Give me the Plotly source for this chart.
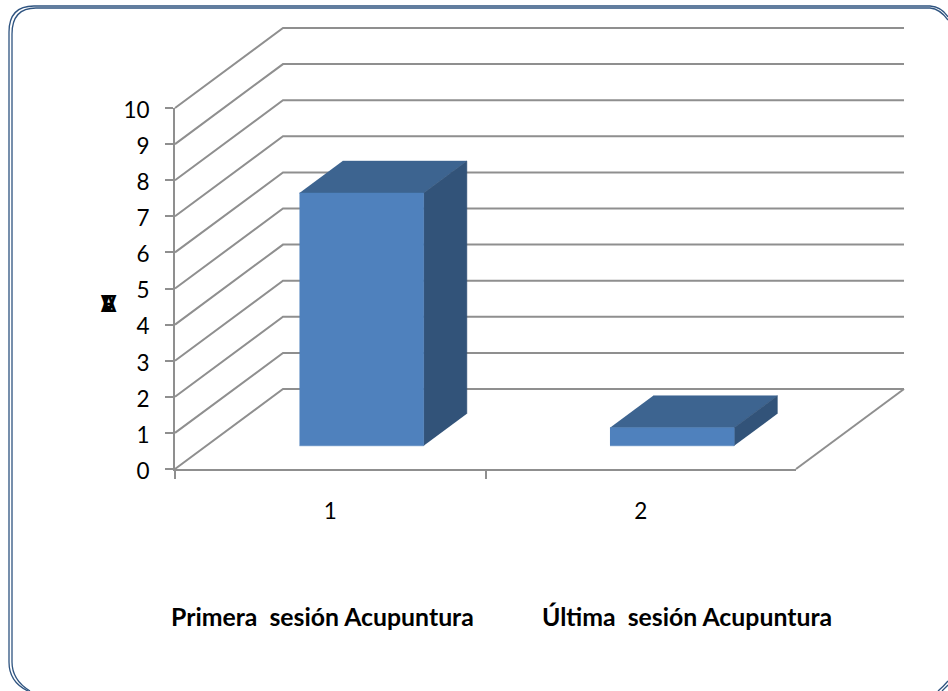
import plotly.graph_objects as go

categories = ["1", "2"]
values = [7, 0.5]
value_ticks = list(range(0, 11))
category_captions = ["Primera\u00a0 sesión Acupuntura", "Última\u00a0 sesión Acupuntura"]
stacked_title_letters = ["E", "V", "A"]

W, H = 948, 691
X0, X1 = 175, 796     # pixel span of the category axis
Y0, Y10 = 469, 108    # pixel span of the value axis
PX_CAT = (X1 - X0) / len(categories)
PX_VAL = (Y0 - Y10) / 10
DEPTH_X = 108 / PX_CAT   # depth offset in axis units
DEPTH_Y = 80 / PX_VAL
BAR_HALF = 0.2
Z_FRONT, Z_BACK = 0.29, 0.69

GRID = "#8f8f8f"
FRONT, TOP, SIDE = "#4f81bd", "#3d6490", "#325379"
NAVY = "#2f5480"
FONT = "Lato, Carlito, sans-serif"


def proj(x, y, z):
    return x + z * DEPTH_X, y + z * DEPTH_Y


fig = go.Figure()


def poly(points, color, width=0, line=None, fill=True):
    pts = [proj(*p) for p in points]
    fig.add_trace(go.Scatter(
        x=[p[0] for p in pts], y=[p[1] for p in pts],
        mode="lines", xaxis="x2", yaxis="y2", showlegend=False, hoverinfo="skip",
        fill="toself" if fill else "none", fillcolor=color if fill else None,
        line=dict(color=line or color, width=width),
    ))


xl, xr = -0.5, len(categories) - 0.5
# keep base axes present even though marks live on the projection axes
fig.add_trace(go.Scatter(x=categories, y=[None, None], xaxis="x", yaxis="y",
                         showlegend=False, hoverinfo="skip"))
# wall gridlines: diagonal on the side wall then along the back wall
for v in value_ticks:
    poly([(xl, v, 0), (xl, v, 1), (xr, v, 1)], GRID, width=2, fill=False)
# right edge of the floor
poly([(xr, 0, 0), (xr, 0, 1)], GRID, width=2, fill=False)

# bars
for i, v in enumerate(values):
    a, b = i - BAR_HALF, i + BAR_HALF
    poly([(a, v, Z_FRONT), (b, v, Z_FRONT), (b, v, Z_BACK), (a, v, Z_BACK)], TOP, width=0.5)
    poly([(b, 0, Z_FRONT), (b, v, Z_FRONT), (b, v, Z_BACK), (b, 0, Z_BACK)], SIDE, width=0.5)
    poly([(a, 0, Z_FRONT), (b, 0, Z_FRONT), (b, v, Z_FRONT), (a, v, Z_FRONT)], FRONT, width=0.5)

# captions
annotations = [
    dict(text=f"<b>{t}</b>", x=cx / W, y=1 - 616 / H, xref="paper", yref="paper",
         xanchor="center", yanchor="middle",
         showarrow=False, font=dict(family=FONT, size=24.8, color="black"))
    for t, cx in zip(category_captions, (322, 687))
]
annotations += [
    dict(text=f"<b>{ch}</b>", x=108.5 / W, y=1 - 304 / H, xref="paper", yref="paper",
         xanchor="center", yanchor="middle",
         showarrow=False, font=dict(family=FONT, size=22, color="black"))
    for ch in stacked_title_letters
]

# outer double-line frame, path coordinates in pixels of the page
frame_paths = [
    f"M 28,{H} Q 9,682 9,662 L 9,32 Q 9,6 34,6 L 930,6 Q 942,7 {W},17",
    f"M 30,{H} Q 12,680 12,662 L 12,34 Q 12,8 36,8 L 930,8 Q 940,9 {W},20",
    f"M 938,{H} Q 943,687 {W},681",
    f"M 942,{H} Q 945,688 {W},685",
]
shapes = [dict(type="path", path=p, xref="x3", yref="y3",
               line=dict(color=NAVY, width=1.3), layer="below") for p in frame_paths]

fig.add_trace(go.Scatter(x=[0], y=[0], xaxis="x3", yaxis="y3", mode="none",
                         showlegend=False, hoverinfo="skip"))

fig.update_layout(
    width=W, height=H, margin=dict(l=0, r=0, t=0, b=0, pad=0, autoexpand=False),
    paper_bgcolor="white", plot_bgcolor="rgba(0,0,0,0)",
    font=dict(family=FONT, color="black"),
    showlegend=False, annotations=annotations, shapes=shapes,
    xaxis=dict(
        type="category", categoryorder="array", categoryarray=categories,
        tickvals=categories, ticktext=categories, tickson="boundaries",
        domain=[X0 / W, X1 / W], range=[xl, xr], anchor="y", automargin=False,
        showline=True, linecolor=GRID, linewidth=2, ticks="outside", ticklen=8,
        tickcolor=GRID, tickwidth=2, showgrid=False, zeroline=False,
        tickfont=dict(family=FONT, size=22.5), ticklabelstandoff=21,
    ),
    yaxis=dict(
        domain=[1 - Y0 / H, 1 - Y10 / H], range=[0, 10], anchor="x", automargin=False,
        tickvals=value_ticks, ticktext=[str(v) for v in value_ticks],
        showline=True, linecolor=GRID, linewidth=2, ticks="outside", ticklen=8,
        tickcolor=GRID, tickwidth=2, showgrid=False, zeroline=False,
        tickfont=dict(family=FONT, size=22.5), ticklabelstandoff=11, ticklabelshift=2,
    ),
    xaxis2=dict(
        domain=[0, 1], anchor="y2", visible=False,
        range=[xl - X0 / PX_CAT, xl + (W - X0) / PX_CAT],
    ),
    yaxis2=dict(
        domain=[0, 1], anchor="x2", visible=False,
        range=[-(H - Y0) / PX_VAL, Y0 / PX_VAL],
    ),
    xaxis3=dict(domain=[0, 1], anchor="y3", visible=False, range=[0, W]),
    yaxis3=dict(domain=[0, 1], anchor="x3", visible=False, range=[H, 0]),
)

fig.write_html("out.html", config={"displayModeBar": False},
               post_script="document.body.style.margin='0';document.body.style.overflow='hidden';")
